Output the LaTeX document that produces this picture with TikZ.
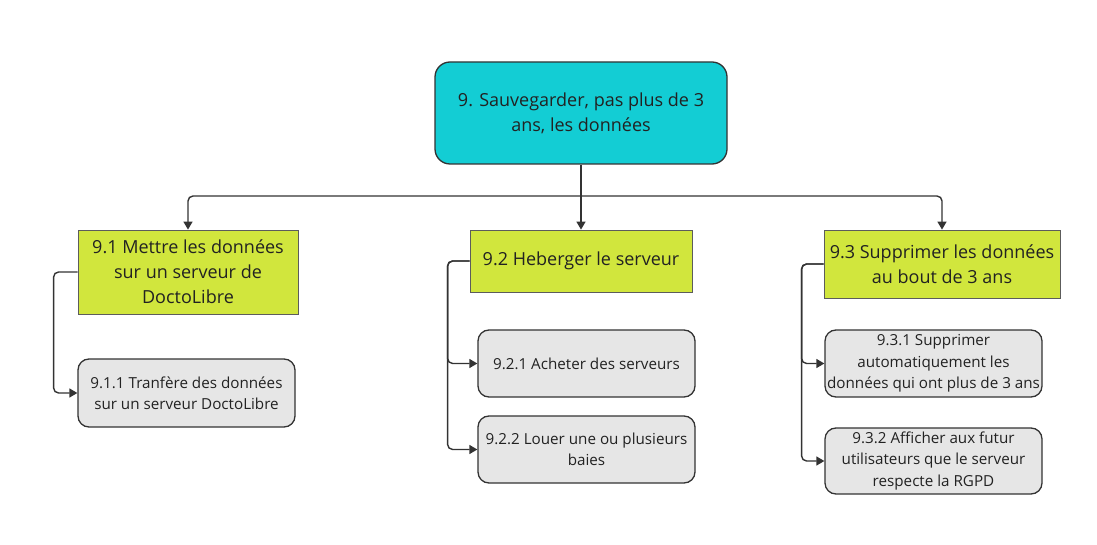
\documentclass[tikz,border=0pt]{standalone}
\usepackage{fontspec}
\setmainfont{Open Sans}
\usetikzlibrary{arrows.meta}
\definecolor{rootc}{HTML}{13CDD4}
\definecolor{limec}{HTML}{D1E63D}
\definecolor{grayc}{HTML}{E6E6E6}
\definecolor{linec}{HTML}{333333}
\definecolor{textc}{HTML}{222222}
\tikzset{
  rootbox/.style={draw=linec, line width=1.3pt, fill=rootc, rounded corners=15pt, inner sep=0pt, text=textc, align=center, font=\fontsize{18}{25}\selectfont},
  limebox/.style={draw=linec!80, line width=0.8pt, fill=limec, inner sep=0pt, text=textc, align=center, font=\fontsize{18}{25}\selectfont},
  graybox/.style={draw=linec, line width=1.3pt, fill=grayc, rounded corners=11pt, inner sep=0pt, text=textc, align=center, font=\fontsize{15.2}{21.5}\selectfont},
  conn/.style={draw=linec, line width=1.4pt, rounded corners=5pt, -{Triangle[length=8pt,width=9pt]}},
  trunk/.style={draw=linec, line width=1.4pt}
}
\begin{document}
\begin{tikzpicture}[x=1pt,y=-1pt]
\useasboundingbox (0,0) rectangle (1097,545);
% root
\node[rootbox, minimum width=292pt, minimum height=102pt] (root) at (581,113) {9. Sauvegarder, pas plus de 3\\ans, les données};
% level 1
\node[limebox, minimum width=220pt, minimum height=84pt] (n1) at (188,272) {9.1 Mettre les données\\sur un serveur de\\DoctoLibre};
\node[limebox, minimum width=222pt, minimum height=62pt] (n2) at (581,261) {9.2 Heberger le serveur};
\node[limebox, minimum width=236pt, minimum height=68pt] (n3) at (942,264) {9.3 Supprimer les données\\au bout de 3 ans};
% level 2
\node[graybox, minimum width=217pt, minimum height=68pt] (n11) at (186.5,393) {9.1.1 Tranfère des données\\sur un serveur DoctoLibre};
\node[graybox, minimum width=217pt, minimum height=67pt] (n21) at (586.5,363.5) {9.2.1 Acheter des serveurs};
\node[graybox, minimum width=217pt, minimum height=67pt] (n22) at (586.5,449.5) {9.2.2 Louer une ou plusieurs\\baies};
\node[graybox, minimum width=217pt, minimum height=67pt] (n31) at (933.5,363.5) {9.3.1 Supprimer\\automatiquement les\\données qui ont plus de 3 ans};
\node[graybox, minimum width=217pt, minimum height=66pt] (n32) at (933.5,461) {9.3.2 Afficher aux futur\\utilisateurs que le serveur\\respecte la RGPD};
% top connectors
\coordinate (j) at (581,196);
\draw[trunk] (root.south) -- (j);
\draw[conn] (j) -| (n1.north);
\draw[conn] (j) -- (n2.north);
\draw[conn] (j) -| (n3.north);
% side connectors
\draw[conn] (n1.west) -- ++(-24,0) |- (n11.west);
\draw[conn] (n2.west) -- ++(-22,0) |- (n21.west);
\draw[conn] (n2.west) -- ++(-22,0) |- (n22.west);
\draw[conn] (n3.west) -- ++(-22,0) |- (n31.west);
\draw[conn] (n3.west) -- ++(-22,0) |- (n32.west);
\end{tikzpicture}
\end{document}
